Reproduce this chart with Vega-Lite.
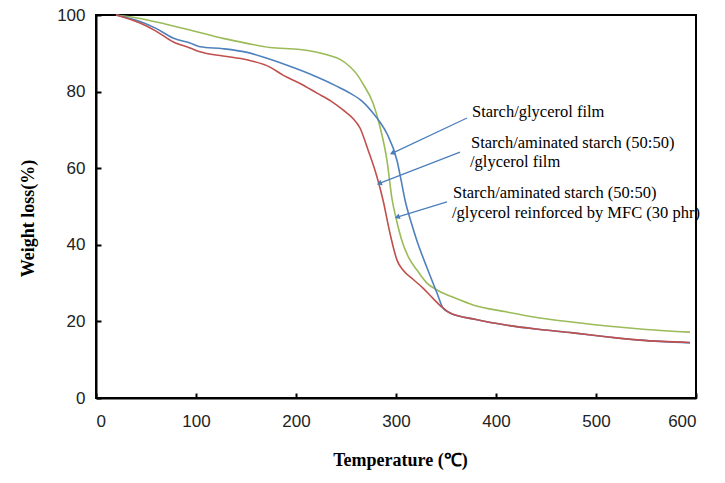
{
  "$schema": "https://vega.github.io/schema/vega-lite/v6.json",
  "width": 600,
  "height": 383,
  "autosize": {"type": "none"},
  "padding": {"left": 96, "top": 15, "right": 29, "bottom": 85},
  "background": "white",
  "config": {
    "view": {"stroke": "black", "strokeWidth": 2},
    "axis": {
      "grid": false,
      "domainColor": "black",
      "domainWidth": 2,
      "tickColor": "black",
      "tickWidth": 2,
      "tickSize": -5,
      "labelFont": "Liberation Sans",
      "labelFontSize": 17,
      "labelColor": "#222",
      "titleFont": "Liberation Serif",
      "titleFontSize": 18,
      "titleFontWeight": "bold",
      "titleColor": "black"
    }
  },
  "layer": [
    {
      "data": {"values": [
        {"T": 20, "W": 100, "series": "MFC"},
        {"T": 44, "W": 99.1, "series": "MFC"},
        {"T": 70, "W": 97.6, "series": "MFC"},
        {"T": 94, "W": 96.1, "series": "MFC"},
        {"T": 127, "W": 93.9, "series": "MFC"},
        {"T": 151, "W": 92.6, "series": "MFC"},
        {"T": 174, "W": 91.5, "series": "MFC"},
        {"T": 204, "W": 91, "series": "MFC"},
        {"T": 231, "W": 89.6, "series": "MFC"},
        {"T": 245, "W": 88.3, "series": "MFC"},
        {"T": 254, "W": 86.5, "series": "MFC"},
        {"T": 261, "W": 84.5, "series": "MFC"},
        {"T": 267, "W": 82, "series": "MFC"},
        {"T": 277, "W": 77, "series": "MFC"},
        {"T": 284, "W": 70.8, "series": "MFC"},
        {"T": 291, "W": 62, "series": "MFC"},
        {"T": 296, "W": 52, "series": "MFC"},
        {"T": 300, "W": 47, "series": "MFC"},
        {"T": 306, "W": 41, "series": "MFC"},
        {"T": 313, "W": 36.5, "series": "MFC"},
        {"T": 321, "W": 33.4, "series": "MFC"},
        {"T": 331, "W": 30, "series": "MFC"},
        {"T": 341, "W": 28.2, "series": "MFC"},
        {"T": 360, "W": 26, "series": "MFC"},
        {"T": 377, "W": 24.3, "series": "MFC"},
        {"T": 410, "W": 22.5, "series": "MFC"},
        {"T": 444, "W": 20.9, "series": "MFC"},
        {"T": 480, "W": 19.7, "series": "MFC"},
        {"T": 511, "W": 18.8, "series": "MFC"},
        {"T": 550, "W": 17.9, "series": "MFC"},
        {"T": 594, "W": 17.2, "series": "MFC"},

        {"T": 20, "W": 100, "series": "Starch"},
        {"T": 44, "W": 98.3, "series": "Starch"},
        {"T": 60, "W": 96.5, "series": "Starch"},
        {"T": 77, "W": 94, "series": "Starch"},
        {"T": 94, "W": 92.7, "series": "Starch"},
        {"T": 104, "W": 91.7, "series": "Starch"},
        {"T": 127, "W": 91.2, "series": "Starch"},
        {"T": 150, "W": 90.3, "series": "Starch"},
        {"T": 171, "W": 88.7, "series": "Starch"},
        {"T": 200, "W": 86, "series": "Starch"},
        {"T": 221, "W": 83.8, "series": "Starch"},
        {"T": 240, "W": 81.5, "series": "Starch"},
        {"T": 254, "W": 79.6, "series": "Starch"},
        {"T": 266, "W": 77.5, "series": "Starch"},
        {"T": 277, "W": 74.4, "series": "Starch"},
        {"T": 284, "W": 72, "series": "Starch"},
        {"T": 291, "W": 69, "series": "Starch"},
        {"T": 301, "W": 62, "series": "Starch"},
        {"T": 305, "W": 57, "series": "Starch"},
        {"T": 309, "W": 51.7, "series": "Starch"},
        {"T": 315, "W": 46, "series": "Starch"},
        {"T": 321, "W": 41, "series": "Starch"},
        {"T": 331, "W": 34, "series": "Starch"},
        {"T": 341, "W": 27.4, "series": "Starch"},
        {"T": 347, "W": 23.5, "series": "Starch"},
        {"T": 354, "W": 22.2, "series": "Starch"},
        {"T": 380, "W": 20.5, "series": "Starch"},
        {"T": 411, "W": 19, "series": "Starch"},
        {"T": 440, "W": 18, "series": "Starch"},
        {"T": 477, "W": 17, "series": "Starch"},
        {"T": 510, "W": 16, "series": "Starch"},
        {"T": 544, "W": 15.1, "series": "Starch"},
        {"T": 594, "W": 14.4, "series": "Starch"},

        {"T": 20, "W": 100, "series": "Aminated"},
        {"T": 44, "W": 97.9, "series": "Aminated"},
        {"T": 60, "W": 95.8, "series": "Aminated"},
        {"T": 77, "W": 93, "series": "Aminated"},
        {"T": 94, "W": 91.4, "series": "Aminated"},
        {"T": 104, "W": 90.4, "series": "Aminated"},
        {"T": 127, "W": 89.3, "series": "Aminated"},
        {"T": 151, "W": 88.3, "series": "Aminated"},
        {"T": 174, "W": 86.4, "series": "Aminated"},
        {"T": 187, "W": 84.3, "series": "Aminated"},
        {"T": 205, "W": 82, "series": "Aminated"},
        {"T": 221, "W": 79.6, "series": "Aminated"},
        {"T": 235, "W": 77.5, "series": "Aminated"},
        {"T": 247, "W": 75.2, "series": "Aminated"},
        {"T": 257, "W": 73, "series": "Aminated"},
        {"T": 264, "W": 70.5, "series": "Aminated"},
        {"T": 272, "W": 64.8, "series": "Aminated"},
        {"T": 281, "W": 57.7, "series": "Aminated"},
        {"T": 287, "W": 51.7, "series": "Aminated"},
        {"T": 294, "W": 43, "series": "Aminated"},
        {"T": 301, "W": 36, "series": "Aminated"},
        {"T": 307, "W": 33.4, "series": "Aminated"},
        {"T": 317, "W": 31, "series": "Aminated"},
        {"T": 327, "W": 28.7, "series": "Aminated"},
        {"T": 337, "W": 26, "series": "Aminated"},
        {"T": 347, "W": 23.5, "series": "Aminated"},
        {"T": 354, "W": 22.2, "series": "Aminated"},
        {"T": 380, "W": 20.5, "series": "Aminated"},
        {"T": 411, "W": 19, "series": "Aminated"},
        {"T": 440, "W": 18, "series": "Aminated"},
        {"T": 477, "W": 17, "series": "Aminated"},
        {"T": 510, "W": 16, "series": "Aminated"},
        {"T": 544, "W": 15.1, "series": "Aminated"},
        {"T": 594, "W": 14.5, "series": "Aminated"}
      ]},
      "mark": {"type": "line", "strokeWidth": 1.6, "interpolate": "monotone"},
      "encoding": {
        "x": {"field": "T", "type": "quantitative", "scale": {"domain": [0, 600], "nice": false},
              "axis": {"values": [0, 100, 200, 300, 400, 500, 600], "title": "Temperature (℃)", "labelPadding": 20,
                       "titleX": 304, "titleY": 62, "titleBaseline": "middle"}},
        "y": {"field": "W", "type": "quantitative", "scale": {"domain": [0, 100], "nice": false},
              "axis": {"values": [0, 20, 40, 60, 80, 100], "title": "Weight loss(%)", "labelPadding": 16,
                       "titleX": -68, "titleY": 203, "titleBaseline": "middle"}},
        "color": {"field": "series", "type": "nominal", "legend": null,
                  "scale": {"domain": ["MFC", "Starch", "Aminated"], "range": ["#9BBB59", "#4F81BD", "#C0504D"]}},
        "order": {"field": "T"}
      }
    },
    {
      "data": {"values": [
        {"label": "a", "xs": 371, "ys": 73.1, "xt": 297, "yt": 64.0},
        {"label": "b", "xs": 364, "ys": 64.2, "xt": 284, "yt": 56.1},
        {"label": "c", "xs": 351, "ys": 51.2, "xt": 302, "yt": 47.3}
      ]},
      "layer": [
        {
          "mark": {"type": "rule", "color": "#4A7EBB", "strokeWidth": 1.2},
          "encoding": {
            "x": {"field": "xs", "type": "quantitative"},
            "y": {"field": "ys", "type": "quantitative"},
            "x2": {"field": "xt"},
            "y2": {"field": "yt"}
          }
        },
        {
          "mark": {"type": "point", "shape": "triangle", "filled": true, "color": "#4A7EBB", "size": 35, "opacity": 1},
          "encoding": {
            "x": {"field": "xt", "type": "quantitative"},
            "y": {"field": "yt", "type": "quantitative"},
            "angle": {"field": "label", "type": "nominal", "scale": {"domain": ["a", "b", "c"], "range": [245, 249, 253]}, "legend": null}
          }
        }
      ]
    },
    {
      "data": {"values": [
        {"T": 376, "W": 74.7, "text": "Starch/glycerol film"},
        {"T": 375, "W": 66.6, "text": "Starch/aminated starch (50:50)"},
        {"T": 374, "W": 61.6, "text": "/glycerol film"},
        {"T": 357, "W": 53.5, "text": "Starch/aminated starch (50:50)"},
        {"T": 356, "W": 48.3, "text": "/glycerol reinforced by MFC (30 phr)"}
      ]},
      "mark": {"type": "text", "align": "left", "baseline": "middle", "font": "Liberation Serif", "fontSize": 16.5, "color": "black"},
      "encoding": {
        "x": {"field": "T", "type": "quantitative"},
        "y": {"field": "W", "type": "quantitative"},
        "text": {"field": "text"}
      }
    }
  ]
}
